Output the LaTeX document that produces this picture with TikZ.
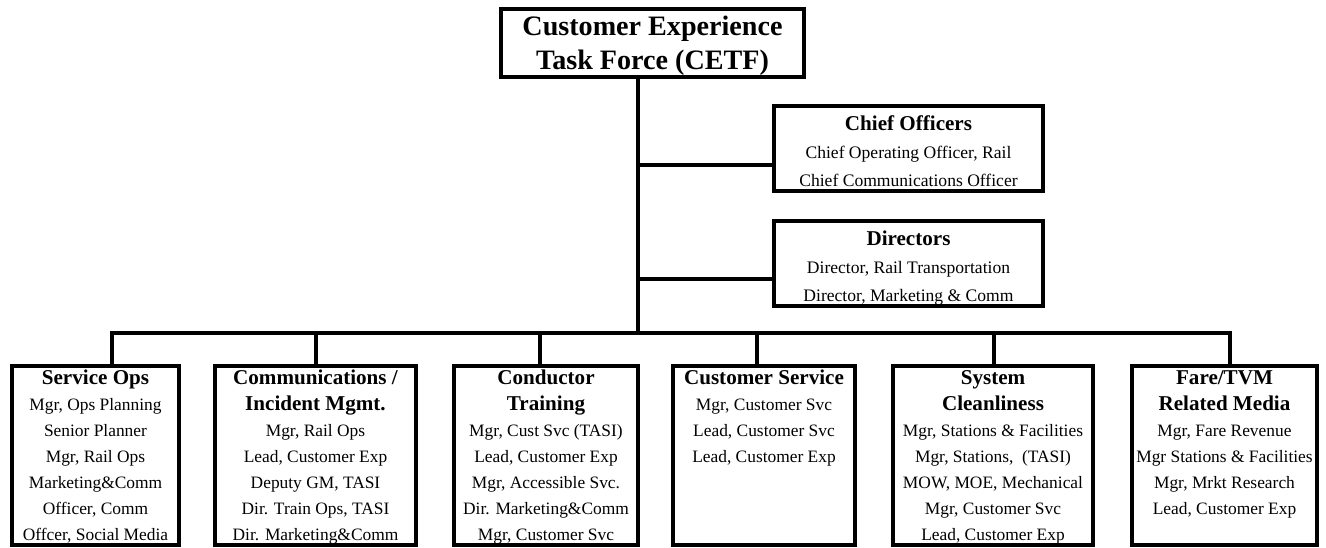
\documentclass[tikz,border=0pt]{standalone}
\usepackage{fontspec}
\setmainfont{Liberation Serif}
\usepackage{xcolor}
\usepackage{tikz}

\newcommand{\grouptitle}[1]{{\fontsize{12}{14.8}\selectfont\bfseries\strut #1}}
\newcommand{\officetitle}[1]{{\fontsize{12}{15.9}\selectfont\bfseries\strut #1}}

\begin{document}
\begin{tikzpicture}[x=0.2mm,y=-0.2mm,
  box/.style={draw,line width=0.8mm,inner sep=0pt},
  office/.style={box,minimum width=53.8mm,minimum height=17mm},
  group/.style={box,minimum height=35.8mm},
  roles/.style={anchor=north,inner sep=0pt,align=center,font=\fontsize{9.9}{14.8}\selectfont},
  officeroles/.style={anchor=north,inner sep=0pt,align=center,font=\fontsize{10}{15.9}\selectfont},
  link/.style={line width=0.8mm}]
\useasboundingbox (0,0) rectangle (1326,548);

% task force
\node[box,minimum width=60.6mm,minimum height=13.6mm] (cetf) at (652.5,43) {};
\node[inner sep=0pt,align=center,font=\fontsize{16}{19.4}\selectfont\bfseries] (cetfT)
  at ([yshift=-0.6mm]cetf.center) {Customer Experience\\Task Force (CETF)};

% chief officers and directors
\node[office] (chief) at (908.5,148.5) {};
\node[officeroles] (chiefT) at ([yshift=-1.3mm]chief.north)
  {\officetitle{Chief Officers}\\Chief Operating Officer, Rail\\Chief Communications Officer};

\node[office] (dirs) at (908.5,263.5) {};
\node[officeroles] (dirsT) at ([yshift=-1.3mm]dirs.north)
  {\officetitle{Directors}\\Director, Rail Transportation\\Director, Marketing \& Comm};

% working groups
\node[group,minimum width=33.4mm] (svc) at (95.5,455.5) {};
\node[roles] (svcT) at ([yshift=-0.3mm]svc.north)
  {\grouptitle{Service Ops}\\Mgr, Ops Planning\\Senior Planner\\Mgr, Rail Ops\\Marketing\&Comm\\Officer, Comm\\Offcer, Social Media};

\node[group,minimum width=40.2mm] (comm) at (315.5,455.5) {};
\node[roles] (commT) at ([yshift=-0.3mm]comm.north)
  {\grouptitle{Communications /}\\\grouptitle{Incident Mgmt.}\\Mgr, Rail Ops\\Lead, Customer Exp\\Deputy GM, TASI\\Dir. Train Ops, TASI\\Dir. Marketing\&Comm};

\node[group,minimum width=36.8mm] (cond) at (546,455.5) {};
\node[roles] (condT) at ([yshift=-0.3mm]cond.north)
  {\grouptitle{Conductor}\\\grouptitle{Training}\\Mgr, Cust Svc (TASI)\\Lead, Customer Exp\\Mgr, Accessible Svc.\\Dir. Marketing\&Comm\\Mgr, Customer Svc};

\node[group,minimum width=36.4mm] (cust) at (764,455.5) {};
\node[roles] (custT) at ([yshift=-0.3mm]cust.north)
  {\grouptitle{Customer Service}\\Mgr, Customer Svc\\Lead, Customer Svc\\Lead, Customer Exp};

\node[group,minimum width=40mm] (clean) at (993,455.5) {};
\node[roles] (cleanT) at ([yshift=-0.3mm]clean.north)
  {\grouptitle{System}\\\grouptitle{Cleanliness}\\Mgr, Stations \& Facilities\\Mgr, Stations,\ \ (TASI)\\MOW, MOE, Mechanical\\Mgr, Customer Svc\\Lead, Customer Exp};

\node[group,minimum width=37mm] (fare) at (1224.5,455.5) {};
\node[roles] (fareT) at ([yshift=-0.3mm]fare.north)
  {\grouptitle{Fare/TVM}\\\grouptitle{Related Media}\\Mgr, Fare Revenue\\Mgr Stations \& Facilities\\Mgr, Mrkt Research\\Lead, Customer Exp};

% junctions
\coordinate (hub) at (638,333);
\coordinate (chiefJ) at (638,165);
\coordinate (dirsJ) at (638,279);
\coordinate (svcJ) at (112,333);
\coordinate (commJ) at (316,333);
\coordinate (condJ) at (540,333);
\coordinate (custJ) at (757,333);
\coordinate (cleanJ) at (994,333);
\coordinate (fareJ) at (1230,333);

% connectors
\draw[link] (hub |- cetf.south) -- (hub);
\draw[link] (chiefJ) -- (chiefJ -| chief.west);
\draw[link] (dirsJ) -- (dirsJ -| dirs.west);
\draw[link] (svcJ |- svc.north) -- (svcJ) -- (fareJ) -- (fareJ |- fare.north);
\draw[link] (commJ) -- (commJ |- comm.north);
\draw[link] (condJ) -- (condJ |- cond.north);
\draw[link] (custJ) -- (custJ |- cust.north);
\draw[link] (cleanJ) -- (cleanJ |- clean.north);
\end{tikzpicture}
\end{document}
